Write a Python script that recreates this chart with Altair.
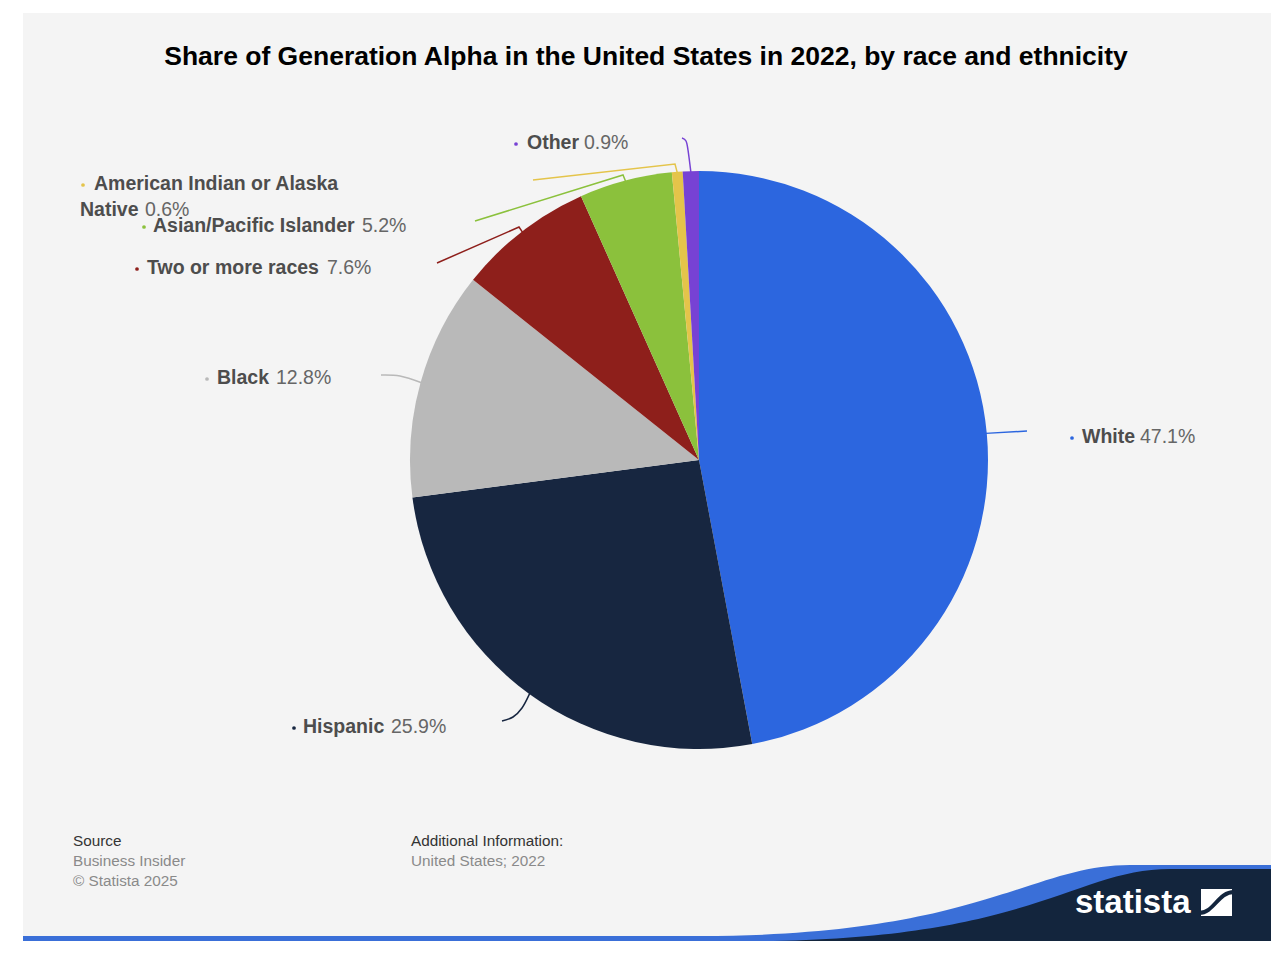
import math
import altair as alt
import pandas as pd

# ---------------- data ----------------
categories = ["White", "Hispanic", "Black", "Two or more races",
              "Asian/Pacific Islander", "American Indian or Alaska Native", "Other"]
values = [47.1, 25.9, 12.8, 7.6, 5.2, 0.6, 0.9]
colors = ["#2c66df", "#172640", "#b9b9b9", "#8e1f1b", "#8bc13c", "#e4c44a", "#7742d4"]

TITLE = "Share of Generation Alpha in the United States in 2022, by race and ethnicity"
source_head = "Source"
source_lines = ["Business Insider", "\u00a9 Statista 2025"]
info_head = "Additional Information:"
info_lines = ["United States; 2022"]
brand = "statista"

# ---------------- layout (page pixel coordinates) ----------------
W, H = 1270, 942
OFF = 8
FONT = "Liberation Sans"


def px(v):
    return v - OFF


CX, CY, R = px(699), px(460), 289

label_layout = {
    "White": {"bullet": (1072, 438), "name": [(1082, 437, "White")], "value": (1140, 437),
              "line": [(1027, 431)], "curve": False},
    "Hispanic": {"bullet": (294, 728), "name": [(303, 727, "Hispanic")], "value": (391, 727),
                 "line": [(522, 708), (513, 717), (502, 721)], "curve": True},
    "Black": {"bullet": (207, 379), "name": [(217, 378, "Black")], "value": (276, 378),
              "line": [(400, 376), (381, 375)], "curve": True},
    "Two or more races": {"bullet": (137, 269), "name": [(147, 268, "Two or more races")],
                          "value": (327, 268), "line": [(519, 227), (437, 263)], "curve": False},
    "Asian/Pacific Islander": {"bullet": (144, 227), "name": [(153, 226, "Asian/Pacific Islander")],
                               "value": (362, 226), "line": [(623, 175), (475, 221)], "curve": False},
    "American Indian or Alaska Native": {"bullet": (83, 185),
                                         "name": [(94, 184, "American Indian or Alaska"),
                                                  (80, 210, "Native")],
                                         "value": (145, 210), "line": [(675, 164), (533, 180)],
                                         "curve": False},
    "Other": {"bullet": (516, 144), "name": [(527, 143, "Other")], "value": (584, 143),
              "line": [(688, 150), (686, 141), (682, 138)], "curve": True},
}

# ---------------- derived tables ----------------
total = sum(values)
pie_df = pd.DataFrame({"category": categories, "value": values, "idx": list(range(len(values)))})

line_rows, curve_rows, bullet_rows, name_rows, value_rows = [], [], [], [], []
cum = 0.0
for c, v in zip(categories, values):
    mid = (cum + v / 2) / total * 2 * math.pi
    cum += v
    sx, sy = CX + (R - 1) * math.sin(mid), CY - (R - 1) * math.cos(mid)
    lay = label_layout[c]
    pts = [(sx, sy)] + [(px(a), px(b)) for a, b in lay["line"]]
    target = curve_rows if lay["curve"] else line_rows
    for k, (a, b) in enumerate(pts):
        target.append({"category": c, "k": k, "x": a, "y": b})
    bullet_rows.append({"category": c, "x": px(lay["bullet"][0]), "y": px(lay["bullet"][1])})
    for (a, b, t) in lay["name"]:
        name_rows.append({"category": c, "x": px(a), "y": px(b), "t": t})
    value_rows.append({"category": c, "x": px(lay["value"][0]), "y": px(lay["value"][1]),
                       "t": f"{v}%"})

xs = alt.Scale(domain=[0, W], range=[0, W], nice=False, zero=False)
ys = alt.Scale(domain=[0, H], range=[0, H], nice=False, zero=False)
cs = alt.Scale(domain=categories, range=colors)
X = lambda: alt.X("x:Q", scale=xs, axis=None)
Y = lambda: alt.Y("y:Q", scale=ys, axis=None)
COL = lambda: alt.Color("category:N", scale=cs, legend=None)
dummy = alt.Data(values=[{}])


def path_shape(path, fill=None, stroke=None, sw=0):
    kw = dict(shape=path, size=4, opacity=1)
    if fill:
        kw.update(filled=True, fill=fill, strokeWidth=0)
    else:
        kw.update(filled=False, stroke=stroke, strokeWidth=sw, fill="transparent")
    return alt.Chart(dummy).mark_point(**kw).encode(x=alt.value(0), y=alt.value(0))


def P(*coords):
    out = []
    for c in coords:
        if isinstance(c, str):
            out.append(c)
        else:
            out.append(f"{px(c[0]):.1f} {px(c[1]):.1f}")
    return " ".join(out)


panel = alt.Chart(dummy).mark_rect(color="#f4f4f4").encode(
    x=alt.value(px(23)), x2=alt.value(px(1271)), y=alt.value(px(13)), y2=alt.value(px(936)))

blue_wave = path_shape(P("M", (23, 936), "L", (700, 936), "C", (980, 936), (1030, 865), (1130, 865),
                         "L", (1271, 865), "L", (1271, 941), "L", (23, 941), "Z"), fill="#3a6fd8")
navy_wave = path_shape(P("M", (750, 941), "C", (1030, 941), (1075, 869), (1170, 869),
                         "L", (1271, 869), "L", (1271, 941), "Z"), fill="#13253d")

pie = alt.Chart(pie_df).mark_arc(radius=R).encode(
    theta=alt.Theta("value:Q", stack=True),
    color=COL(),
    order=alt.Order("idx:Q"),
    x=alt.value(CX), y=alt.value(CY))

leaders = alt.Chart(pd.DataFrame(line_rows)).mark_line(strokeWidth=1.5).encode(
    x=X(), y=Y(), color=COL(), detail="category:N", order="k:Q")
leaders_curved = alt.Chart(pd.DataFrame(curve_rows)).mark_line(
    strokeWidth=1.5, interpolate="cardinal").encode(
    x=X(), y=Y(), color=COL(), detail="category:N", order="k:Q")

bullets = alt.Chart(pd.DataFrame(bullet_rows)).mark_circle(size=14, opacity=1).encode(
    x=X(), y=Y(), color=COL())

names = alt.Chart(pd.DataFrame(name_rows)).mark_text(
    align="left", baseline="middle", font=FONT, fontSize=19.5, fontWeight="bold", color="#4d4d4d"
).encode(x=X(), y=Y(), text="t:N")

vals = alt.Chart(pd.DataFrame(value_rows)).mark_text(
    align="left", baseline="middle", font=FONT, fontSize=19.5, color="#666666"
).encode(x=X(), y=Y(), text="t:N")

title = alt.Chart(dummy).mark_text(
    align="center", baseline="middle", font=FONT, fontSize=26.5, fontWeight="bold", color="#000000"
).encode(x=alt.value(px(646)), y=alt.value(px(57)), text=alt.value(TITLE))

head_rows = [
    {"t": source_head, "x": px(73), "y": px(841)},
    {"t": info_head, "x": px(411), "y": px(841)},
]
grey_rows = [
    {"t": source_lines[0], "x": px(73), "y": px(861)},
    {"t": source_lines[1], "x": px(73), "y": px(881)},
    {"t": info_lines[0], "x": px(411), "y": px(861)},
]
foot_heads = alt.Chart(pd.DataFrame(head_rows)).mark_text(
    align="left", baseline="middle", font=FONT, fontSize=15.3, color="#333333"
).encode(x=X(), y=Y(), text="t:N")
foot_grey = alt.Chart(pd.DataFrame(grey_rows)).mark_text(
    align="left", baseline="middle", font=FONT, fontSize=15.3, color="#8a8a8a"
).encode(x=X(), y=Y(), text="t:N")

brand_text = alt.Chart(dummy).mark_text(
    align="left", baseline="middle", font=FONT, fontSize=33, fontWeight="bold", color="#ffffff"
).encode(x=alt.value(px(1075)), y=alt.value(px(903)), text=alt.value(brand))

icon_box = alt.Chart(dummy).mark_rect(color="#ffffff").encode(
    x=alt.value(px(1201)), x2=alt.value(px(1232)), y=alt.value(px(889)), y2=alt.value(px(916)))
icon_curve = path_shape(P("M", (1199, 913), "C", (1214, 913), (1218, 892), (1234, 892)),
                        stroke="#13253d", sw=4)

chart = alt.layer(
    panel, blue_wave, navy_wave, pie, leaders, leaders_curved, bullets, names, vals, title,
    foot_heads, foot_grey, brand_text, icon_box, icon_curve
).properties(
    width=W, height=H, padding=0, background="#ffffff",
    autosize=alt.AutoSizeParams(type="none")
).configure_view(strokeWidth=0)

chart.save("out.html", embed_options={"renderer": "svg", "actions": False})
